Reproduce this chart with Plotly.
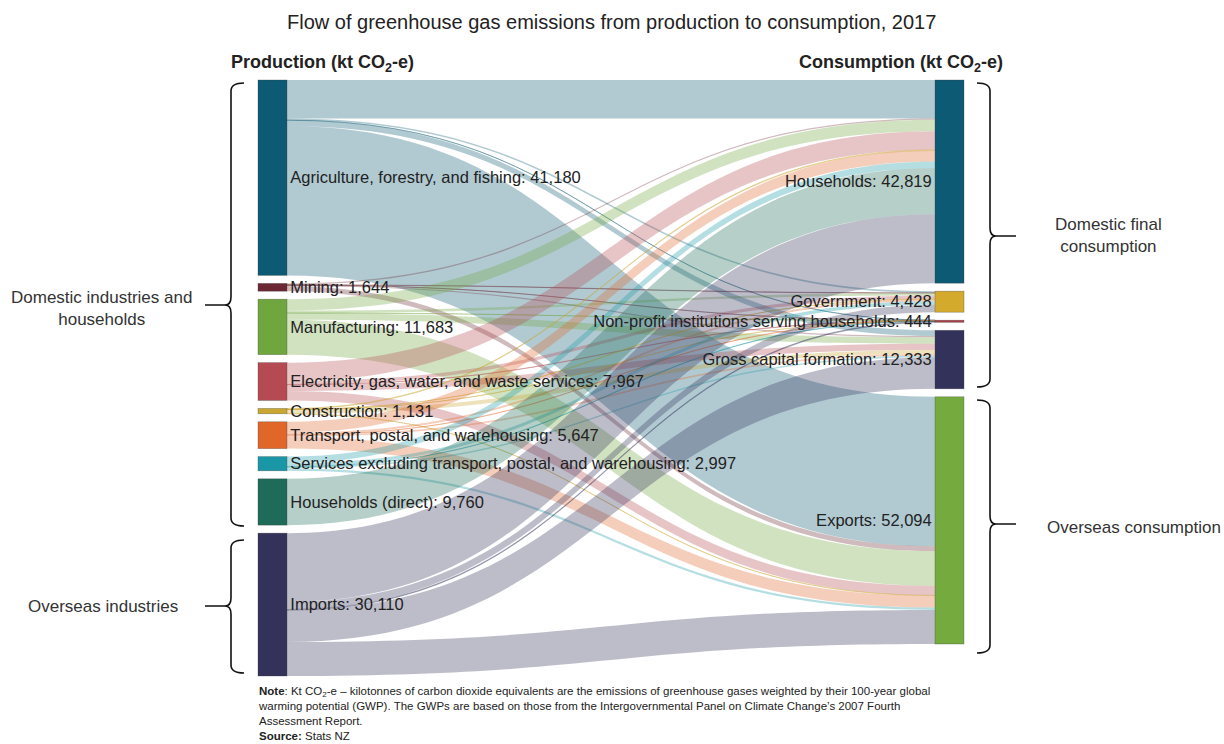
import plotly.graph_objects as go

W, H_FIG = 1224, 744

# ---------------- data ----------------
sources = ["Agriculture, forestry, and fishing", "Mining", "Manufacturing",
           "Electricity, gas, water, and waste services", "Construction",
           "Transport, postal, and warehousing",
           "Services excluding transport, postal, and warehousing",
           "Households (direct)", "Imports"]
source_totals = [41180, 1644, 11683, 7967, 1131, 5647, 2997, 9760, 30110]

targets = ["Households", "Government", "Non-profit institutions serving households",
           "Gross capital formation", "Exports"]
target_totals = [42819, 4428, 444, 12333, 52094]

# flows from each source to [Households, Government, NPISH, GCF, Exports]
flow_agriculture = [8100, 350, 30, 1200, 31500]
flow_mining = [300, 60, 10, 250, 1024]
flow_manufacturing = [2400, 500, 50, 1400, 7333]
flow_electricity = [3900, 700, 60, 1307, 2000]
flow_construction = [150, 80, 5, 846, 50]
flow_transport = [2300, 450, 40, 357, 2500]
flow_services = [1400, 700, 80, 317, 500]
flow_households_direct = [9760, 0, 0, 0, 0]
flow_imports = [14509, 1588, 169, 6656, 7188]

flows = [flow_agriculture, flow_mining, flow_manufacturing, flow_electricity,
         flow_construction, flow_transport, flow_services,
         flow_households_direct, flow_imports]

source_colors = ["#0d5a74", "#6b2833", "#70a63e", "#b54a52", "#c9a630",
                 "#e0662a", "#1a97a6", "#1d6b58", "#33325b"]
target_colors = ["#0d5a74", "#d4aa2c", "#a8404a", "#33325b", "#74aa3e"]

# ---------------- geometry helpers ----------------
def px(x):
    return x / W

def py(y):
    return 1 - y / H_FIG

DOM_X0, DOM_X1 = 240, 980
DOM_Y0, DOM_Y1 = 80, 676
THICK = 29
PAD = 8
dom_w = DOM_X1 - DOM_X0
dom_h = DOM_Y1 - DOM_Y0

def hexrgba(h, a):
    h = h.lstrip("#")
    r, g, b = int(h[0:2], 16), int(h[2:4], 16), int(h[4:6], 16)
    return f"rgba({r},{g},{b},{a})"

# node values from flows
src_vals = [sum(f) for f in flows]
tgt_vals = [sum(f[j] for f in flows) for j in range(len(targets))]
ky = min((dom_h - (len(src_vals) - 1) * PAD) / sum(src_vals),
         (dom_h - (len(tgt_vals) - 1) * PAD) / sum(tgt_vals))

def centers(vals):
    out, cum = [], 0.0
    for v in vals:
        h = v * ky
        out.append((cum + h / 2) / dom_h)
        cum += h + PAD
    return out

node_y = centers(src_vals) + centers(tgt_vals)
left_cx = (258 + THICK / 2 - DOM_X0) / dom_w
right_cx = (935 + THICK / 2 - DOM_X0) / dom_w
node_x = [left_cx] * len(sources) + [right_cx] * len(targets)

labels = [f"{n}: {v:,}" for n, v in zip(sources, source_totals)] + \
         [f"{n}: {v:,}" for n, v in zip(targets, target_totals)]

link_s, link_t, link_v, link_c = [], [], [], []
for i, f in enumerate(flows):
    for j, v in enumerate(f):
        if v > 0:
            link_s.append(i)
            link_t.append(len(sources) + j)
            link_v.append(v)
            link_c.append(hexrgba(source_colors[i], 0.32))

fig = go.Figure(go.Sankey(
    arrangement="fixed",
    domain=dict(x=[px(DOM_X0), px(DOM_X1)], y=[py(DOM_Y1), py(DOM_Y0)]),
    node=dict(
        label=labels,
        x=node_x,
        y=node_y,
        pad=PAD,
        thickness=THICK,
        color=source_colors + target_colors,
        line=dict(color="rgba(60,60,60,0.5)", width=0.6),
    ),
    link=dict(source=link_s, target=link_t, value=link_v, color=link_c),
    textfont=dict(family="Liberation Sans, Arial, sans-serif", size=16.5,
                  color="#222222", shadow="none"),
))

# ---------------- braces ----------------
def brace(x_line, y_top, y_bot, y_tip, hook_x, tip_x, r=8, cusp=6):
    d = 1 if tip_x < x_line else -1  # 1: tip points left
    pts = []
    pts.append(f"M {px(hook_x)},{py(y_top)}")
    pts.append(f"Q {px(x_line)},{py(y_top)} {px(x_line)},{py(y_top + r)}")
    pts.append(f"L {px(x_line)},{py(y_tip - r)}")
    pts.append(f"Q {px(x_line)},{py(y_tip)} {px(x_line - d * cusp)},{py(y_tip)}")
    pts.append(f"Q {px(x_line)},{py(y_tip)} {px(x_line)},{py(y_tip + r)}")
    pts.append(f"L {px(x_line)},{py(y_bot - r)}")
    pts.append(f"Q {px(x_line)},{py(y_bot)} {px(hook_x)},{py(y_bot)}")
    pts.append(f"M {px(x_line - d * cusp)},{py(y_tip)} L {px(tip_x)},{py(y_tip)}")
    return " ".join(pts)

braces = [
    brace(231, 83, 526, 305, 244, 205),
    brace(231, 540, 673, 606, 244, 205),
    brace(990, 83, 387, 236, 977, 1016),
    brace(990, 400, 653, 524, 977, 1016),
]
for b in braces:
    fig.add_shape(type="path", path=b, xref="paper", yref="paper",
                  line=dict(color="#111111", width=1.6))

# ---------------- texts ----------------
FONT = "Liberation Sans, Arial, sans-serif"

def ann(text, x, y, size, xanchor="center", yanchor="middle", align="center",
        color="#222222", family=FONT):
    fig.add_annotation(text=text, x=px(x), y=py(y), xref="paper", yref="paper",
                       showarrow=False, xanchor=xanchor, yanchor=yanchor,
                       align=align, font=dict(size=size, color=color, family=family))

ann("Flow of greenhouse gas emissions from production to consumption, 2017",
    611, 22, 20)
ann("<b>Production (kt CO<sub>2</sub>-e)</b>", 322, 63, 18)
ann("<b>Consumption (kt CO<sub>2</sub>-e)</b>", 901, 63, 18)
ann("Domestic industries and<br>households", 101, 308, 17, color="#333333")
ann("Overseas industries", 103, 606, 17, color="#333333")
ann("Domestic final<br>consumption", 1108, 236, 17, color="#333333")
ann("Overseas consumption", 1134, 527, 17, color="#333333")

note = ("<b>Note</b>: Kt CO<sub>2</sub>-e – kilotonnes of carbon dioxide equivalents are the "
        "emissions of greenhouse gases weighted by their 100-year global<br>"
        "warming potential (GWP). The GWPs are based on those from the Intergovernmental "
        "Panel on Climate Change’s 2007 Fourth<br>"
        "Assessment Report.<br>"
        "<b>Source:</b> Stats NZ")
ann(note, 256, 683, 11.5, xanchor="left", yanchor="top", align="left")

fig.update_layout(
    width=W, height=H_FIG,
    margin=dict(l=0, r=0, t=0, b=0),
    paper_bgcolor="white",
    plot_bgcolor="white",
    font=dict(family=FONT),
)

fig.write_html("out.html")
